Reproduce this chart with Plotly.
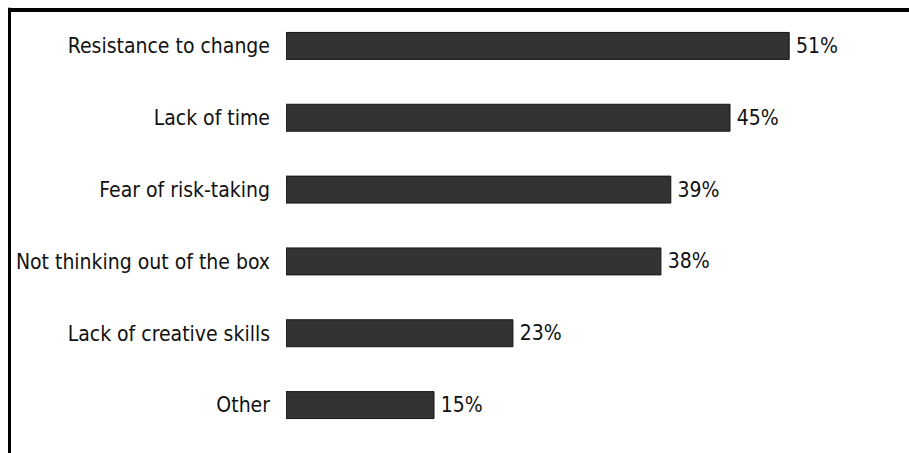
import plotly.graph_objects as go

categories = ["Resistance to change", "Lack of time", "Fear of risk-taking",
              "Not thinking out of the box", "Lack of creative skills", "Other"]
values = [51, 45, 39, 38, 23, 15]

FONT = "Liberation Sans Narrow, Arial Narrow, DejaVu Sans Condensed, sans-serif"

fig = go.Figure(go.Bar(
    x=values,
    y=categories,
    orientation="h",
    width=0.375,
    marker=dict(color="#333333", line=dict(color="#151515", width=1)),
    texttemplate="\u2009%{x}%",
    textposition="outside",
    textfont=dict(family=FONT, size=21, color="#111111"),
    cliponaxis=False,
))

fig.update_layout(
    width=909, height=453,
    margin=dict(l=286, r=31, t=10, b=12, autoexpand=False),
    paper_bgcolor="white", plot_bgcolor="white",
    showlegend=False,
    xaxis=dict(range=[0, 60], visible=False, fixedrange=True, automargin=False),
    yaxis=dict(autorange="reversed", showgrid=False, zeroline=False, showline=False,
               ticks="", ticklabelstandoff=15, automargin=False, fixedrange=True,
               tickfont=dict(family=FONT, size=21, color="#111111")),
    shapes=[
        dict(type="line", xref="paper", yref="paper",
             x0=(9.5 - 286) / 592, x1=(909 - 286) / 592, y0=1.0, y1=1.0,
             line=dict(color="black", width=4)),
        dict(type="line", xref="paper", yref="paper",
             x0=(9.5 - 286) / 592, x1=(9.5 - 286) / 592, y0=1.005, y1=-0.03,
             line=dict(color="black", width=3)),
    ],
)

fig.write_html("out.html",
               config={"displayModeBar": False},
               post_script="document.body.style.margin='0';document.body.style.overflow='hidden';")
